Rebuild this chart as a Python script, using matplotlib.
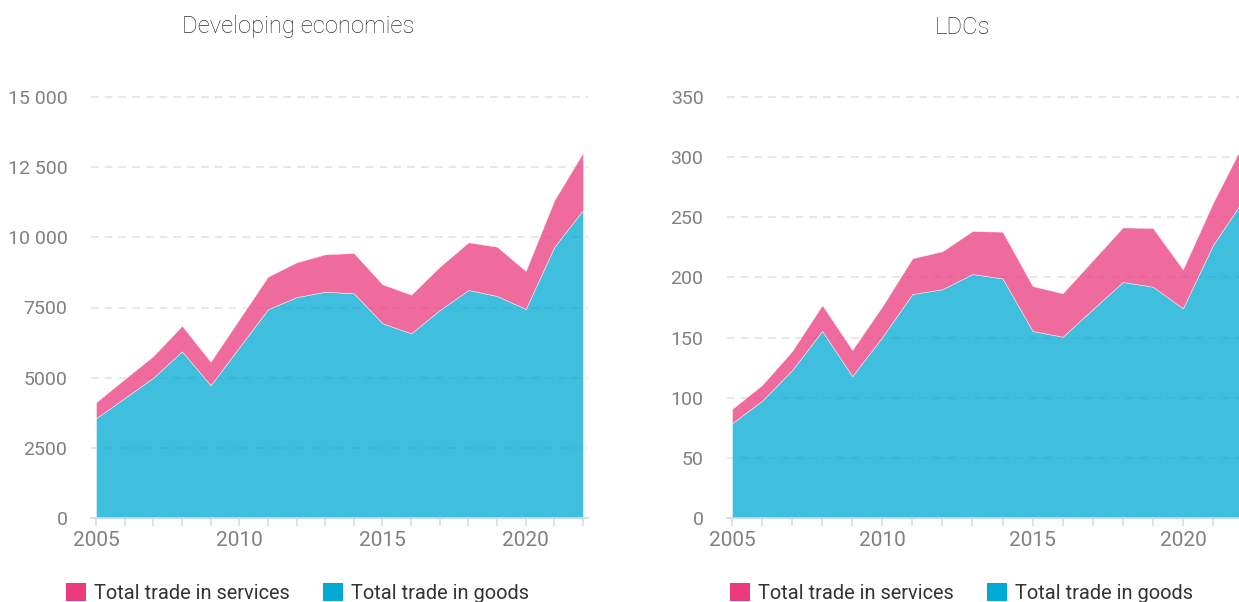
import matplotlib
matplotlib.use('Agg')
from matplotlib import pyplot as plt
from matplotlib.patches import Patch

plt.rcParams['font.family'] = ['Roboto', 'DejaVu Sans']

years = list(range(2005, 2023))

# Developing economies
dev_goods = [3552, 4276, 4999, 5939, 4728, 6082, 7436, 7870, 8063, 8006,
             6937, 6581, 7411, 8124, 7910, 7447, 9667, 10974]
dev_services = [570, 677, 773, 913, 841, 1001, 1162, 1240, 1333, 1436,
                1390, 1375, 1543, 1699, 1757, 1354, 1663, 2042]

# LDCs
ldc_goods = [78.7, 97.5, 123, 155.5, 118, 150.5, 186.2, 190.2, 202.8, 199.2,
             155.5, 150.7, 173.5, 196.2, 192.3, 174.3, 227, 264]
ldc_services = [11.9, 13.1, 15.8, 21.5, 21.7, 25.5, 29.7, 31.6, 35.8, 38.8,
                37.4, 36.1, 40.7, 45.4, 48.8, 32.4, 35, 47]

dev_yticks = [0, 2500, 5000, 7500, 10000, 12500, 15000]
dev_ylabels = ['0', '2500', '5000', '7500', '10 000', '12 500', '15 000']
ldc_yticks = [0, 50, 100, 150, 200, 250, 300, 350]
ldc_ylabels = ['0', '50', '100', '150', '200', '250', '300', '350']
xticks = [2005, 2010, 2015, 2020]

titles = ['Developing economies', 'LDCs']
legend_labels = ['Total trade in services', 'Total trade in goods']

pink = '#EC3A7C'
blue = '#00A8D4'
grid_col = '#E0E0E0'
axis_col = '#C9DDEE'
tick_txt = '#808080'

W, H = 1239, 602
fig = plt.figure(figsize=(W / 100, H / 100), dpi=100)


def px_axes(left, right, bottom, top):
    return fig.add_axes([left / W, (H - bottom) / H, (right - left) / W, (bottom - top) / H])


def draw(ax, goods, services, yticks, ylabels, ytop, x0, x1):
    ax.stackplot(years, goods, services, colors=[blue, pink], alpha=0.75,
                 edgecolor='white', linewidth=0.4, zorder=2)
    ax.set_xlim(x0, x1)
    ax.set_ylim(0, ytop)
    ax.set_yticks(yticks)
    ax.set_yticklabels(ylabels)
    ax.set_xticks(years, minor=True)
    ax.set_xticks(xticks)
    ax.set_axisbelow(True)
    ax.grid(axis='y', color=grid_col, linestyle=(0, (5, 4)), linewidth=1.1)
    for s in ['top', 'right', 'left']:
        ax.spines[s].set_visible(False)
    ax.spines['bottom'].set_color(axis_col)
    ax.spines['bottom'].set_linewidth(1.2)
    ax.spines['bottom'].set_zorder(3)
    ax.tick_params(axis='y', length=0, pad=17, labelsize=14, labelcolor=tick_txt)
    ax.tick_params(axis='x', which='both', length=6, width=1.1, color=axis_col,
                   labelsize=15, labelcolor=tick_txt, pad=3)
    for gl in ax.get_ygridlines():
        gl.set_clip_on(False)


ax1 = px_axes(91, 588, 518, 97)
draw(ax1, dev_goods, dev_services, dev_yticks, dev_ylabels, 15000,
     2005 - 5 / 28.66, 2022 + 5 / 28.66)

ax2 = px_axes(727, 1248, 518, 97)
draw(ax2, ldc_goods, ldc_services, ldc_yticks, ldc_ylabels, 350,
     2005 - 5 / 30.1, 2022 + 5 / 30.1)

fig.text(298 / W, 1 - 27 / H, titles[0], ha='center', va='center',
         fontsize=17.2, color='#333333', fontweight='light')
fig.text(962 / W, 1 - 27 / H, titles[1], ha='center', va='center',
         fontsize=17.2, color='#333333', fontweight='light')

handles = [Patch(facecolor=pink, edgecolor='none'), Patch(facecolor=blue, edgecolor='none')]
for xl in [66, 730]:
    fig.legend(handles, legend_labels, loc='center left', ncol=2,
               bbox_to_anchor=(xl / W, 9 / H), frameon=False, fontsize=14.45,
               handlelength=1.0, handleheight=1.0, handletextpad=0.4,
               columnspacing=1.65, borderpad=0, borderaxespad=0,
               labelcolor='#333333')

fig.savefig('out.png', dpi=100)
